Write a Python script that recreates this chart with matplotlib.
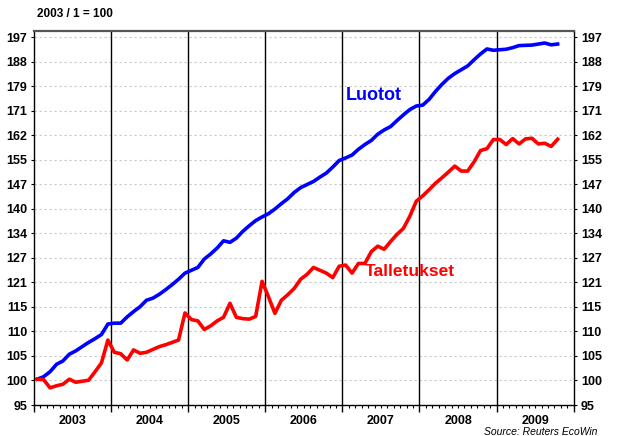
import numpy as np
import matplotlib
matplotlib.use('Agg')
import matplotlib.pyplot as plt
import matplotlib.transforms as mtransforms

plt.rcParams['font.family'] = ['Liberation Sans', 'DejaVu Sans']

# monthly index 2003/1 = 100, Jan 2003 .. Oct 2009
years = ['2003', '2004', '2005', '2006', '2007', '2008', '2009']

luotot = [100.0, 100.5, 101.5, 103.0, 103.7, 105.1, 105.8, 106.7, 107.6, 108.4,
          109.3, 111.6, 111.8, 111.8, 113.2, 114.4, 115.5, 117.0, 117.5, 118.4,
          119.5, 120.7, 122.0, 123.5, 124.2, 124.9, 127.0, 128.3, 129.8, 131.7,
          131.3, 132.4, 134.2, 135.7, 137.1, 138.1, 139.0, 140.3, 141.8, 143.2,
          145.0, 146.4, 147.3, 148.2, 149.5, 150.7, 152.5, 154.5, 155.3, 156.2,
          158.0, 159.5, 160.8, 162.8, 164.2, 165.3, 167.3, 169.2, 171.0, 172.2,
          172.5, 174.5, 177.3, 179.8, 182.0, 183.7, 185.1, 186.5, 188.8, 191.0,
          192.9, 192.4, 192.6, 192.8, 193.4, 194.2, 194.3, 194.4, 194.8, 195.2,
          194.5, 194.8]

talletukset = [100.0, 99.9, 98.3, 98.7, 99.0, 100.0, 99.4, 99.6, 99.8, 101.5,
               103.3, 108.1, 105.5, 105.2, 103.9, 106.0, 105.3, 105.5, 106.1, 106.7,
               107.1, 107.6, 108.1, 114.1, 112.6, 112.3, 110.4, 111.2, 112.3, 113.1,
               116.3, 113.1, 112.8, 112.7, 113.3, 121.5, 117.8, 114.0, 117.0, 118.3,
               119.8, 122.0, 123.2, 124.9, 124.2, 123.5, 122.4, 125.2, 125.5, 123.5,
               125.9, 125.9, 128.9, 130.3, 129.5, 131.5, 133.4, 135.0, 138.3, 142.5,
               144.0, 145.8, 147.7, 149.3, 151.0, 152.8, 151.3, 151.3, 154.1, 157.6,
               158.2, 161.1, 161.1, 159.5, 161.4, 159.7, 161.3, 161.5, 159.7, 159.9,
               158.9, 161.2]

ytick_labels = ['95', '100', '105', '110', '115', '121', '127', '134', '140',
                '147', '155', '162', '171', '179', '188', '197']

fig = plt.figure(figsize=(6.22, 4.36), dpi=100)
ax = fig.add_axes([34/622, 1-405/436, 540/622, 374/436])

x = np.arange(len(luotot)) + 0.5
ax.plot(x, luotot, color='#0000ff', lw=2.6, solid_joinstyle='round', zorder=4)
ax.plot(x, talletukset, color='#ff0000', lw=2.6, solid_joinstyle='round', zorder=4)

ax.set_yscale('log')
yt = [95 * 1.05**k for k in range(len(ytick_labels))]
ax.set_yticks(yt)
ax.set_yticklabels(ytick_labels)
ax.yaxis.set_minor_locator(matplotlib.ticker.NullLocator())
ax.set_ylim(95, 95 * 1.05**15.25)
ax.set_xlim(0, 12 * len(years) + 0.05)

for v in yt[1:]:
    ax.axhline(v, color='#c8c8c8', lw=0.8, ls=(0, (2, 2.5)), zorder=1)
for i in range(1, len(years)):
    ax.axvline(12 * i, color='black', lw=1.0, zorder=2)

ax.set_xticks([12 * i for i in range(len(years) + 1)])
ax.set_xticklabels([])
ax.set_xticks(np.arange(0, 12 * len(years) + 1), minor=True)
ax.tick_params(axis='x', which='major', length=5, width=1, direction='out')
ax.tick_params(axis='x', which='minor', length=2.5, width=0.8, direction='out')
ax.tick_params(axis='y', which='major', length=2, width=0.8, direction='out',
               left=True, right=True, labelleft=True, labelright=True, pad=3)
for lab in ax.get_yticklabels():
    lab.set_fontweight('bold')
    lab.set_fontsize(9)

trans = mtransforms.blended_transform_factory(ax.transData, ax.transAxes)
for i, yr in enumerate(years):
    ax.text(12 * i + 6, -0.042, yr, transform=trans, ha='center', va='center',
            fontsize=9, fontweight='bold')

for s in ['left', 'right', 'bottom']:
    ax.spines[s].set_color('black')
    ax.spines[s].set_linewidth(1.0)
ax.spines['top'].set_color('#555555')
ax.spines['top'].set_linewidth(1.6)

ax.text(374/622, 1-95/436, 'Luotot', transform=fig.transFigure, color='#0000ff',
        fontsize=13, fontweight='bold', ha='center', va='center')
ax.text(410/622, 1-271/436, 'Talletukset', transform=fig.transFigure, color='#ff0000',
        fontsize=12.5, fontweight='bold', ha='center', va='center')

fig.text(37/622, 1-14/436, '2003 / 1 = 100', fontsize=8.5, fontweight='bold',
         ha='left', va='center')
fig.text(597/622, 1-427/436, 'Source: Reuters EcoWin', fontsize=7.5, style='italic',
         ha='right', va='top')

fig.savefig('out.png', dpi=100)
